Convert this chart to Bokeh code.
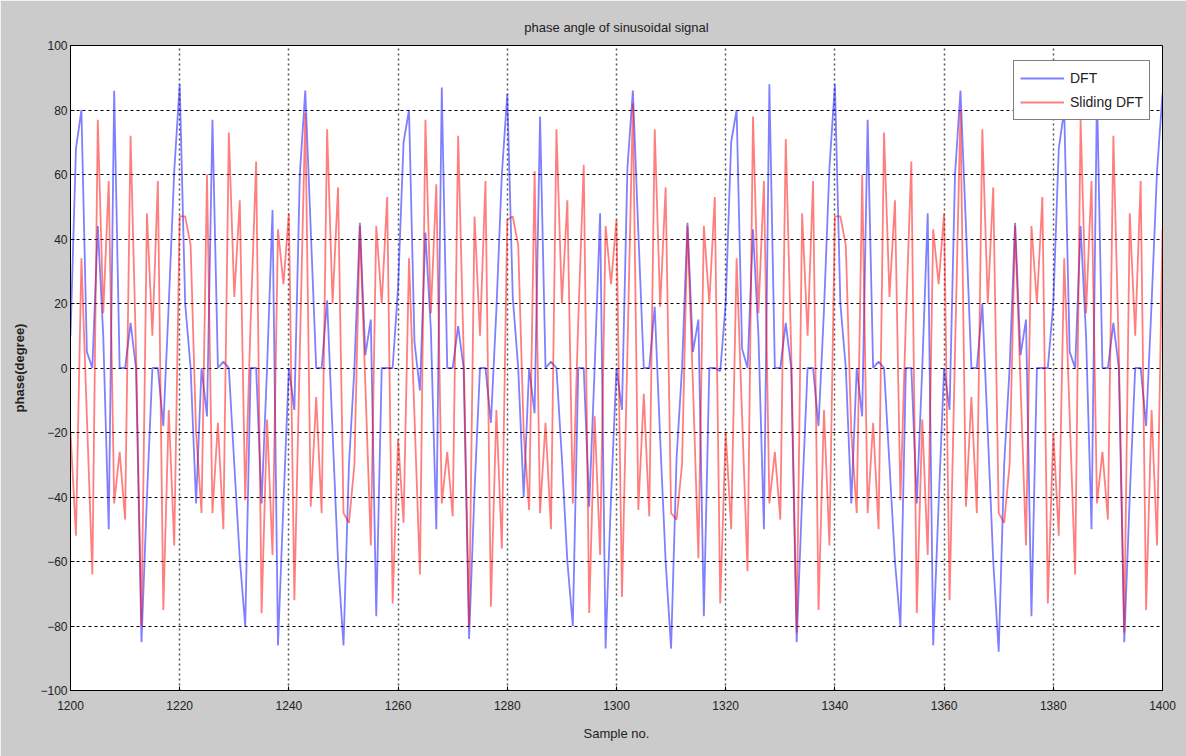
from bokeh.plotting import figure
from bokeh.models import FixedTicker, Legend, LegendItem, Range1d, ColumnDataSource
from bokeh.embed import file_html
from bokeh.resources import INLINE

# ---- data ----
sample_no = list(range(1200, 1401))

dft_phase = [
    # 1200-1259
    10, 68, 80, 5, 0, 44, 10, -50, 86, 0,
    0, 14, 0, -85, -40, 0, 0, -18, 20, 61,
    88, 20, 0, -42, 0, -15, 77, 0, 2, 0,
    -30, -59, -80, 0, 0, -42, 0, 49, -86, -42,
    0, -13, 60, 86, 43, 0, 0, 21, -20, -60,
    -86, -30, 0, 45, 4, 15, -77, 0, 0, 0,
    # 1260-1319
    25, 70, 80, 8, -7, 42, 12, -50, 87, 0,
    0, 13, 0, -84, -38, 0, 0, -17, 18, 60,
    85, 22, 0, -40, 0, -14, 78, 0, 2, 0,
    -28, -60, -80, 0, 0, -43, 0, 48, -87, -40,
    0, -13, 62, 86, 42, 0, 0, 19, -22, -60,
    -87, -28, 0, 45, 5, 15, -77, 0, 0, -1,
    # 1320-1379
    20, 70, 80, 6, 0, 43, 10, -50, 88, 0,
    0, 14, 0, -85, -40, 0, 0, -18, 18, 62,
    88, 20, 0, -42, 0, -15, 77, 0, 2, 0,
    -30, -60, -80, 0, 0, -42, 0, 48, -86, -42,
    0, -13, 60, 86, 44, 0, 0, 20, -20, -60,
    -88, -30, 0, 45, 4, 15, -77, 0, 0, 0,
    # 1380-1400
    20, 68, 80, 5, 0, 44, 10, -50, 86, 0,
    0, 14, 0, -85, -40, 0, 0, -18, 20, 61,
    85,
]

sliding_dft_phase = [
    # 1200-1259
    -20, -52, 34, -15, -64, 77, 17, 58, -42, -26,
    -47, 72, 5, -80, 48, 10, 58, -75, -13, -55,
    47, 47, 38, -20, -45, 60, -45, -17, -50, 73,
    22, 52, -41, 15, 64, -76, -16, -58, 43, 26,
    48, -72, 5, 79, -43, -9, -45, 74, 20, 56,
    -45, -48, -30, 44, -5, -55, 44, 20, 53, -73,
    # 1260-1319
    -22, -48, 34, -15, -64, 77, 17, 57, -42, -26,
    -46, 72, 5, -80, 47, 10, 58, -74, -13, -56,
    46, 47, 38, -20, -44, 61, -45, -17, -50, 74,
    20, 52, -42, 15, 63, -76, -15, -58, 44, 26,
    46, -71, 5, 82, -44, -8, -46, 74, 19, 56,
    -45, -47, -30, 44, -5, -59, 44, 20, 53, -73,
    # 1320-1379
    -20, -50, 34, -15, -63, 78, 17, 58, -42, -26,
    -47, 71, 5, -82, 48, 10, 58, -75, -13, -55,
    47, 47, 38, -20, -45, 60, -45, -17, -50, 73,
    22, 52, -41, 15, 64, -76, -16, -58, 43, 26,
    48, -72, 5, 80, -43, -9, -45, 74, 20, 56,
    -45, -48, -30, 44, -5, -55, 44, 20, 53, -73,
    # 1380-1400
    -20, -52, 34, -15, -64, 77, 17, 58, -42, -26,
    -47, 72, 5, -82, 48, 10, 58, -75, -13, -55,
    43,
]

x_ticks = [1200, 1220, 1240, 1260, 1280, 1300, 1320, 1340, 1360, 1380, 1400]
y_ticks = [-100, -80, -60, -40, -20, 0, 20, 40, 60, 80, 100]

FONT = "Liberation Sans Narrow, Liberation Sans, Arial, sans-serif"

src = ColumnDataSource(dict(x=sample_no, dft=dft_phase, sdft=sliding_dft_phase))

p = figure(width=1186, height=756, output_backend="svg", toolbar_location=None,
           x_range=Range1d(1200, 1400), y_range=Range1d(-100, 100),
           min_border_left=70, min_border_right=24, min_border_top=45,
           min_border_bottom=66)

p.background_fill_color = "white"
p.border_fill_color = "#cbcbcb"
p.outline_line_color = "black"
p.outline_line_width = 1

p.title.text = "phase angle of sinusoidal signal"
p.title.align = "center"
p.title.text_font = FONT
p.title.text_font_size = "13px"
p.title.text_font_style = "normal"
p.title.text_color = "#222222"
p.title.standoff = 22

for ax in (p.xaxis[0], p.yaxis[0]):
    ax.major_tick_in = 4
    ax.major_tick_out = 0
    ax.minor_tick_line_color = None
    ax.axis_line_color = "black"
    ax.major_tick_line_color = "black"
    ax.major_label_text_font = FONT
    ax.major_label_text_font_size = "12px"
    ax.major_label_text_color = "#222222"
    ax.axis_label_text_font = FONT
    ax.axis_label_text_font_size = "13px"
    ax.axis_label_text_color = "#222222"

p.xaxis.ticker = FixedTicker(ticks=x_ticks)
p.yaxis.ticker = FixedTicker(ticks=y_ticks)
p.xaxis.axis_label = "Sample no."
p.xaxis.axis_label_text_font_style = "normal"
p.xaxis.major_label_standoff = 10
p.xaxis.axis_label_standoff = 13
p.yaxis.axis_label = "phase(degree)"
p.yaxis.axis_label_text_font_style = "bold"
p.yaxis.major_label_standoff = 3
p.yaxis.axis_label_standoff = 10

p.xgrid.ticker = FixedTicker(ticks=x_ticks)
p.ygrid.ticker = FixedTicker(ticks=y_ticks)
p.xgrid.grid_line_color = "#555555"
p.xgrid.grid_line_dash = "2 3"
p.xgrid.grid_line_width = 1.5
p.ygrid.grid_line_color = "black"
p.ygrid.grid_line_dash = "3 3"
p.ygrid.grid_line_width = 1

r_dft = p.line("x", "dft", source=src, line_color="#0000ff", line_alpha=0.5, line_width=1.8)
r_sdft = p.line("x", "sdft", source=src, line_color="#ff0000", line_alpha=0.5, line_width=1.8)

legend = Legend(items=[LegendItem(label="DFT", renderers=[r_dft]),
                       LegendItem(label="Sliding DFT", renderers=[r_sdft])],
                location=(943, 570))
legend.margin = 0
legend.padding = 6
legend.spacing = 2
legend.glyph_width = 44
legend.glyph_height = 22
legend.label_standoff = 6
legend.label_text_font = FONT
legend.label_text_font_size = "14px"
legend.label_text_color = "#222222"
legend.border_line_color = "black"
legend.border_line_width = 1
legend.background_fill_color = "white"
legend.background_fill_alpha = 1
p.add_layout(legend, "center")

open("out.html", "w").write(file_html(p, INLINE))
